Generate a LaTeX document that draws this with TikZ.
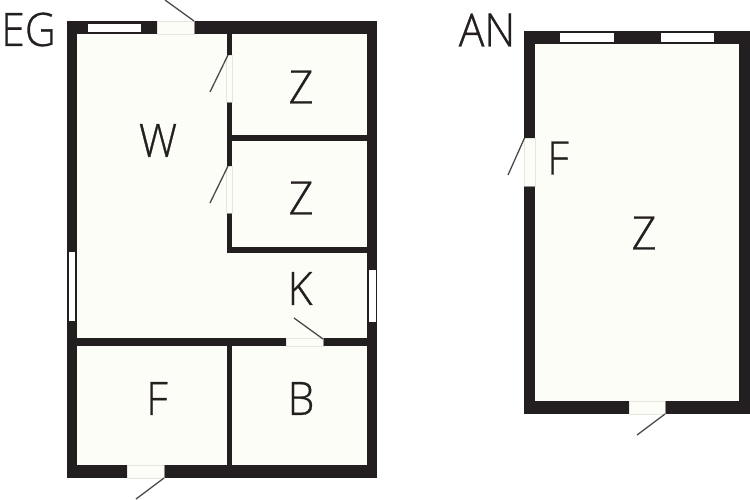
\documentclass[tikz,border=0pt]{standalone}
\usepackage{fontspec}
\setmainfont[UprightFont=* Light,RawFeature={embolden=0.7}]{Open Sans}
\definecolor{wallc}{HTML}{231F20}
\definecolor{roomc}{HTML}{FDFDF7}
\definecolor{leafc}{HTML}{4A4A4A}
\definecolor{edgec}{HTML}{D8D8D0}
\tikzset{
  wall/.style={fill=wallc,draw=none},
  room/.style={fill=roomc,draw=none},
  pane/.style={fill=white,draw=none},
  gap/.style={fill=roomc,draw=edgec,draw opacity=0.6,line width=0.5pt},
  leaf/.style={draw=leafc,line width=1.3pt},
  lbl/.style={font=\fontsize{46}{46}\selectfont,text=wallc,inner sep=0pt,anchor=center,xscale=0.93}
}
\begin{document}
\begin{tikzpicture}[x=1pt,y=-1pt]
\useasboundingbox (0,0) rectangle (750,500);
\fill[white] (0,0) rectangle (750,500);
% EG walls
\path[wall] (67,21) rectangle (377,478);
\path[room] (77,34) rectangle (367,465);
% interior walls
\path[wall] (226.5,34) rectangle (232,253);
\path[wall] (226.5,135) rectangle (367,141);
\path[wall] (226.5,247) rectangle (367,253);
\path[wall] (77,338) rectangle (367,346);
\path[wall] (226.5,338) rectangle (232,465);
% EG windows
\path[pane] (88,24) rectangle (141,32);
\path[pane] (68.5,252) rectangle (75,321);
\path[pane] (369,270) rectangle (376,322);
% EG doors
\path[gap] (157,21) rectangle (194,34);
\path[gap] (226.5,55) rectangle (232,102);
\path[gap] (226.5,166) rectangle (232,213);
\path[gap] (286,338) rectangle (323,346);
\path[gap] (127,465) rectangle (164,478);
\coordinate (d1a) at (194,21); \coordinate (d1b) at (165,0);
\coordinate (d2a) at (228,55); \coordinate (d2b) at (210,92);
\coordinate (d3a) at (228,166); \coordinate (d3b) at (210,203);
\coordinate (d4a) at (323,339); \coordinate (d4b) at (294,318);
\coordinate (d5a) at (164,478); \coordinate (d5b) at (136,499);
\draw[leaf] (d1a) -- (d1b);
\draw[leaf] (d2a) -- (d2b);
\draw[leaf] (d3a) -- (d3b);
\draw[leaf] (d4a) -- (d4b);
\draw[leaf] (d5a) -- (d5b);
% AN walls
\path[wall] (524,31) rectangle (750,414);
\path[room] (535,44) rectangle (739,401);
\path[pane] (560,33.5) rectangle (614,42);
\path[pane] (661,33.5) rectangle (714,42);
\path[gap] (524,138) rectangle (535,186);
\path[gap] (629,401) rectangle (665,414);
\coordinate (d6a) at (524.5,138); \coordinate (d6b) at (508,175);
\coordinate (d7a) at (665,414); \coordinate (d7b) at (637,435);
\draw[leaf] (d6a) -- (d6b);
\draw[leaf] (d7a) -- (d7b);
% labels
\node[lbl] (eg) at (28.5,29.5) {EG};
\node[lbl] (w) at (158,140.5) {W};
\node[lbl] (z1) at (301,87) {Z};
\node[lbl] (z2) at (301,198) {Z};
\node[lbl] (k) at (300,288.5) {K};
\node[lbl] (f1) at (157,398.5) {F};
\node[lbl] (b) at (301,398.5) {B};
\node[lbl] (an) at (487,30) {AN};
\node[lbl] (f2) at (558,158) {F};
\node[lbl] (z3) at (644,233) {Z};
\end{tikzpicture}
\end{document}
